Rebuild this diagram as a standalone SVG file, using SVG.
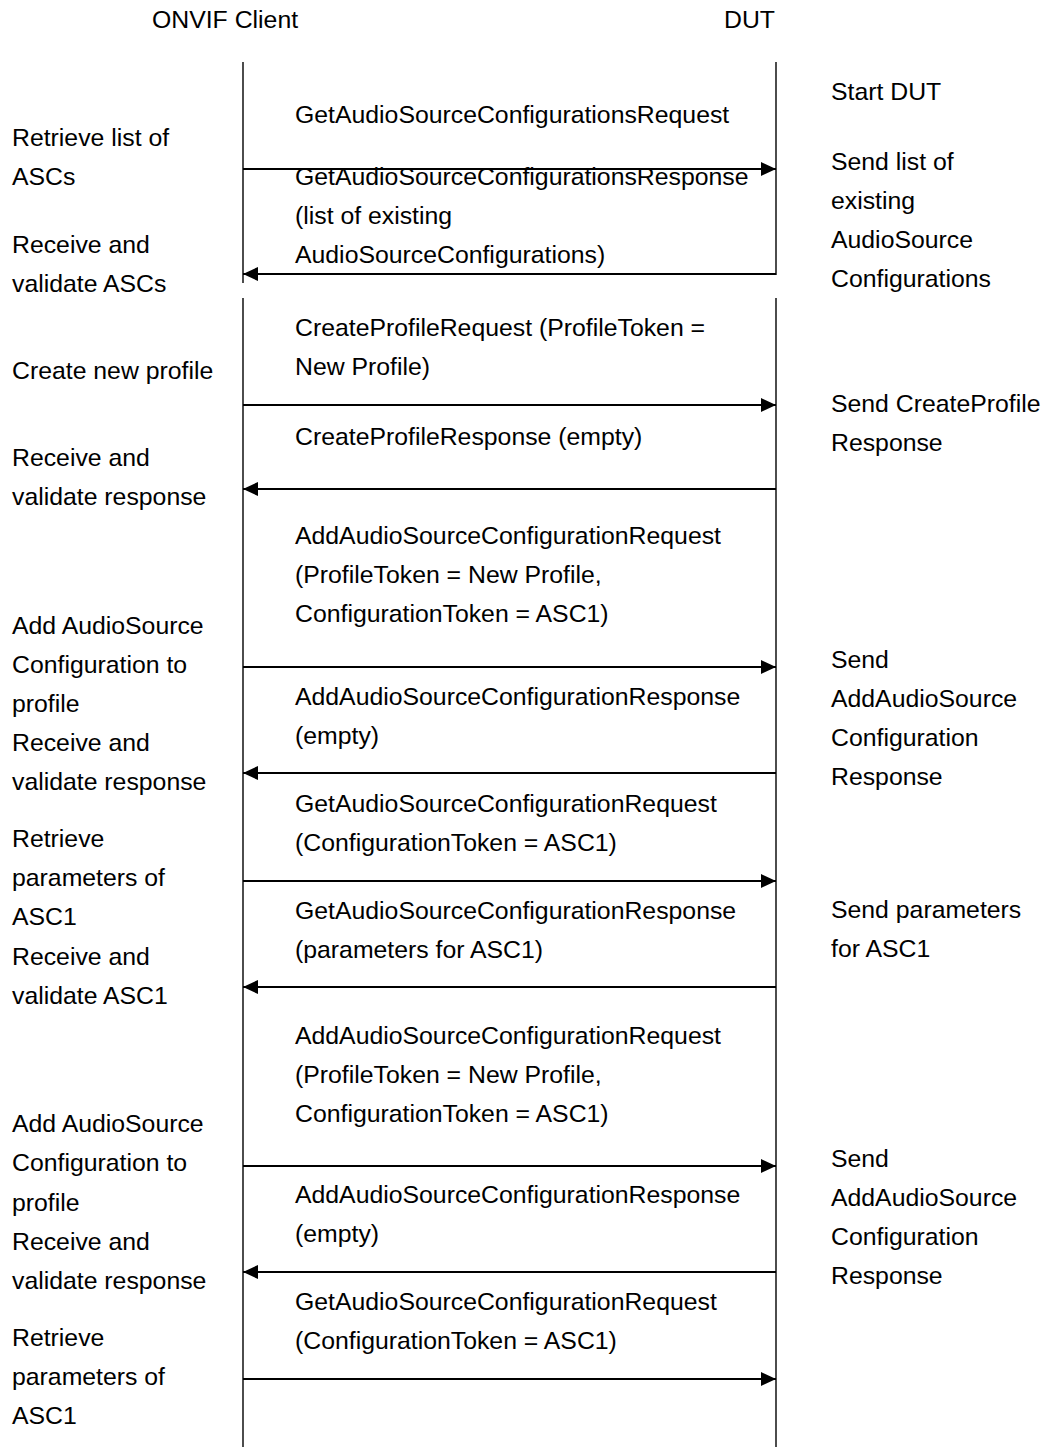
<svg xmlns="http://www.w3.org/2000/svg" width="1047" height="1447" viewBox="0 0 1047 1447">
<style>
text{font-family:"Liberation Sans",Arial,sans-serif;font-size:24.8px;fill:#000}
.life{stroke:#000;stroke-width:1.4;fill:none}
.msg{stroke:#000;stroke-width:1.8;fill:none}
</style>
<defs>
<marker id="ah" viewBox="0 0 15 14" refX="15" refY="7" markerWidth="15" markerHeight="14" markerUnits="userSpaceOnUse" orient="auto">
<path d="M0,0 L15,7 L0,14 Z" fill="#000"/>
</marker>
</defs>
<rect width="1047" height="1447" fill="#fff"/>
<g id="client-header"><text x="152" y="28">ONVIF Client</text></g>
<g id="dut-header"><text x="724" y="28">DUT</text></g>
<g id="lifelines">
<line class="life" x1="243" y1="62" x2="243" y2="283"/>
<line class="life" x1="243" y1="298" x2="243" y2="1447"/>
<line class="life" x1="776" y1="62" x2="776" y2="275"/>
<line class="life" x1="776" y1="298" x2="776" y2="1447"/>
</g>
<g id="connectors">
<line class="msg" x1="243" y1="169" x2="776" y2="169" marker-end="url(#ah)"/>
<line class="msg" x1="776" y1="274" x2="243" y2="274" marker-end="url(#ah)"/>
<line class="msg" x1="243" y1="405" x2="776" y2="405" marker-end="url(#ah)"/>
<line class="msg" x1="776" y1="489" x2="243" y2="489" marker-end="url(#ah)"/>
<line class="msg" x1="243" y1="667" x2="776" y2="667" marker-end="url(#ah)"/>
<line class="msg" x1="776" y1="773" x2="243" y2="773" marker-end="url(#ah)"/>
<line class="msg" x1="243" y1="881" x2="776" y2="881" marker-end="url(#ah)"/>
<line class="msg" x1="776" y1="987" x2="243" y2="987" marker-end="url(#ah)"/>
<line class="msg" x1="243" y1="1166" x2="776" y2="1166" marker-end="url(#ah)"/>
<line class="msg" x1="776" y1="1272" x2="243" y2="1272" marker-end="url(#ah)"/>
<line class="msg" x1="243" y1="1379" x2="776" y2="1379" marker-end="url(#ah)"/>
</g>
<g id="message-labels">
<text x="295" y="123">GetAudioSourceConfigurationsRequest</text>
<text x="295" y="185">GetAudioSourceConfigurationsResponse</text>
<text x="295" y="224">(list of existing</text>
<text x="295" y="263">AudioSourceConfigurations)</text>
<text x="295" y="336">CreateProfileRequest (ProfileToken =</text>
<text x="295" y="375">New Profile)</text>
<text x="295" y="445">CreateProfileResponse (empty)</text>
<text x="295" y="544">AddAudioSourceConfigurationRequest</text>
<text x="295" y="583">(ProfileToken = New Profile,</text>
<text x="295" y="622">ConfigurationToken = ASC1)</text>
<text x="295" y="705">AddAudioSourceConfigurationResponse</text>
<text x="295" y="744">(empty)</text>
<text x="295" y="812">GetAudioSourceConfigurationRequest</text>
<text x="295" y="851">(ConfigurationToken = ASC1)</text>
<text x="295" y="919">GetAudioSourceConfigurationResponse</text>
<text x="295" y="958">(parameters for ASC1)</text>
<text x="295" y="1044">AddAudioSourceConfigurationRequest</text>
<text x="295" y="1083">(ProfileToken = New Profile,</text>
<text x="295" y="1122">ConfigurationToken = ASC1)</text>
<text x="295" y="1203">AddAudioSourceConfigurationResponse</text>
<text x="295" y="1242">(empty)</text>
<text x="295" y="1310">GetAudioSourceConfigurationRequest</text>
<text x="295" y="1349">(ConfigurationToken = ASC1)</text>
</g>
<g id="client-notes">
<text x="12" y="146">Retrieve list of</text>
<text x="12" y="185">ASCs</text>
<text x="12" y="253">Receive and</text>
<text x="12" y="292">validate ASCs</text>
<text x="12" y="379">Create new profile</text>
<text x="12" y="466">Receive and</text>
<text x="12" y="505">validate response</text>
<text x="12" y="634">Add AudioSource</text>
<text x="12" y="673">Configuration to</text>
<text x="12" y="712">profile</text>
<text x="12" y="751">Receive and</text>
<text x="12" y="790">validate response</text>
<text x="12" y="847">Retrieve</text>
<text x="12" y="886">parameters of</text>
<text x="12" y="925">ASC1</text>
<text x="12" y="965">Receive and</text>
<text x="12" y="1004">validate ASC1</text>
<text x="12" y="1132">Add AudioSource</text>
<text x="12" y="1171">Configuration to</text>
<text x="12" y="1211">profile</text>
<text x="12" y="1250">Receive and</text>
<text x="12" y="1289">validate response</text>
<text x="12" y="1346">Retrieve</text>
<text x="12" y="1385">parameters of</text>
<text x="12" y="1424">ASC1</text>
</g>
<g id="dut-notes">
<text x="831" y="100">Start DUT</text>
<text x="831" y="170">Send list of</text>
<text x="831" y="209">existing</text>
<text x="831" y="248">AudioSource</text>
<text x="831" y="287">Configurations</text>
<text x="831" y="412">Send CreateProfile</text>
<text x="831" y="451">Response</text>
<text x="831" y="668">Send</text>
<text x="831" y="707">AddAudioSource</text>
<text x="831" y="746">Configuration</text>
<text x="831" y="785">Response</text>
<text x="831" y="918">Send parameters</text>
<text x="831" y="957">for ASC1</text>
<text x="831" y="1167">Send</text>
<text x="831" y="1206">AddAudioSource</text>
<text x="831" y="1245">Configuration</text>
<text x="831" y="1284">Response</text>
</g>
</svg>
